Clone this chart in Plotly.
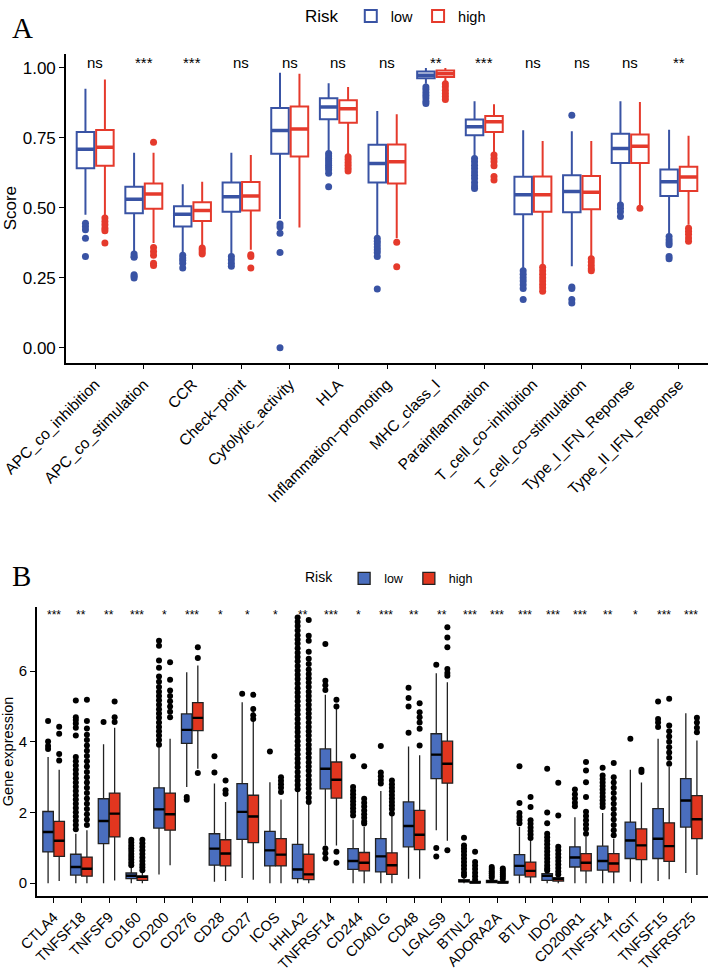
import plotly.graph_objects as go

# ---------------- Panel A data ----------------
A_categories = ["APC_co_inhibition", "APC_co_stimulation", "CCR", "Check−point",
                "Cytolytic_activity", "HLA", "Inflammation−promoting", "MHC_class_I",
                "Parainflammation", "T_cell_co−inhibition", "T_cell_co−stimulation",
                "Type_I_IFN_Reponse", "Type_II_IFN_Reponse"]
A_sig = ["ns", "***", "***", "ns", "ns", "ns", "ns", "**", "***", "ns", "ns", "ns", "**"]

A_low_lower = [0.475, 0.344, 0.338, 0.332, 0.460, 0.700, 0.399, 0.943, 0.682, 0.285, 0.291, 0.516, 0.403]
A_low_q1 = [0.641, 0.480, 0.433, 0.486, 0.693, 0.816, 0.590, 0.963, 0.759, 0.477, 0.484, 0.660, 0.542]
A_low_median = [0.709, 0.530, 0.477, 0.539, 0.776, 0.860, 0.658, 0.973, 0.789, 0.546, 0.558, 0.712, 0.593]
A_low_q3 = [0.771, 0.575, 0.505, 0.590, 0.856, 0.891, 0.725, 0.987, 0.815, 0.611, 0.616, 0.764, 0.637]
A_low_upper = [0.925, 0.696, 0.584, 0.696, 0.982, 0.945, 0.846, 0.999, 0.880, 0.777, 0.773, 0.880, 0.779]
A_low_outliers = [
    [0.445, 0.433, 0.421, 0.391, 0.326],
    [0.335, 0.326, 0.323, 0.261, 0.255, 0.249],
    [0.330, 0.320, 0.312, 0.302, 0.285],
    [0.326, 0.314, 0.302, 0.291],
    [0.442, 0.431, 0.409, 0.340, 0.000],
    [0.694, 0.685, 0.676, 0.668, 0.660, 0.652, 0.644, 0.636, 0.623, 0.575],
    [0.391, 0.380, 0.370, 0.360, 0.350, 0.340, 0.326, 0.210],
    [0.931, 0.922, 0.912, 0.902, 0.892, 0.880, 0.872],
    [0.676, 0.664, 0.652, 0.640, 0.628, 0.616, 0.604, 0.590, 0.578, 0.569],
    [0.275, 0.262, 0.250, 0.238, 0.225, 0.211, 0.172],
    [0.830, 0.217, 0.211, 0.172, 0.160],
    [0.510, 0.498, 0.486, 0.469],
    [0.397, 0.386, 0.376, 0.368, 0.326, 0.318],
]

A_high_lower = [0.469, 0.374, 0.362, 0.350, 0.429, 0.690, 0.391, 0.949, 0.694, 0.297, 0.323, 0.510, 0.439]
A_high_q1 = [0.650, 0.496, 0.453, 0.490, 0.683, 0.804, 0.587, 0.967, 0.771, 0.486, 0.495, 0.660, 0.560]
A_high_median = [0.716, 0.549, 0.490, 0.542, 0.781, 0.854, 0.664, 0.979, 0.807, 0.546, 0.555, 0.720, 0.610]
A_high_q3 = [0.778, 0.587, 0.520, 0.592, 0.862, 0.884, 0.726, 0.990, 0.828, 0.612, 0.613, 0.762, 0.646]
A_high_upper = [0.958, 0.696, 0.593, 0.688, 0.979, 0.931, 0.834, 0.999, 0.870, 0.738, 0.738, 0.878, 0.757]
A_high_outliers = [
    [0.463, 0.451, 0.439, 0.427, 0.418, 0.374],
    [0.734, 0.358, 0.344, 0.330, 0.302, 0.294],
    [0.356, 0.350, 0.342, 0.335],
    [0.332, 0.326, 0.285],
    [],
    [0.682, 0.672, 0.662, 0.652, 0.641, 0.631],
    [0.377, 0.289],
    [0.943, 0.932, 0.920, 0.908, 0.897, 0.887],
    [0.688, 0.676, 0.664, 0.650, 0.612, 0.599],
    [0.287, 0.275, 0.262, 0.250, 0.238, 0.226, 0.214, 0.202],
    [0.318, 0.306, 0.294, 0.282, 0.275],
    [0.498],
    [0.427, 0.416, 0.405, 0.392, 0.380],
]
A_yticks = [0.0, 0.25, 0.5, 0.75, 1.0]
A_yticklabels = ["0.00", "0.25", "0.50", "0.75", "1.00"]

# ---------------- Panel B data ----------------
B_categories = ["CTLA4", "TNFSF18", "TNFSF9", "CD160", "CD200", "CD276", "CD28", "CD27",
                "ICOS", "HHLA2", "TNFRSF14", "CD244", "CD40LG", "CD48", "LGALS9", "BTNL2",
                "ADORA2A", "BTLA", "IDO2", "CD200R1", "TNFSF14", "TIGIT", "TNFSF15", "TNFRSF25"]
B_sig = ["***", "**", "**", "***", "*", "***", "*", "*", "*", "**", "***", "*",
         "***", "**", "**", "***", "***", "***", "***", "***", "**", "*", "***", "***"]

B_low_lower = [0.0, 0.0, 0.0, 0.0, 0.25, 2.72, 0.04, 0.15, 0.0, 0.0, 1.07, 0.0, 0.0, 0.13, 1.50, 0.0, 0.0, 0.0, 0.0, 0.0, 0.0, 0.04, 0.06, 0.29]
B_low_q1 = [0.885, 0.23, 1.12, 0.13, 1.56, 3.96, 0.51, 1.24, 0.49, 0.13, 2.67, 0.39, 0.32, 1.03, 2.96, 0.04, 0.02, 0.23, 0.08, 0.46, 0.37, 0.70, 0.70, 1.59]
B_low_median = [1.45, 0.46, 1.76, 0.21, 2.09, 4.34, 0.98, 2.02, 0.93, 0.39, 3.24, 0.63, 0.76, 1.62, 3.64, 0.06, 0.05, 0.49, 0.21, 0.73, 0.63, 1.21, 1.26, 2.34]
B_low_q3 = [2.03, 0.82, 2.39, 0.29, 2.70, 4.79, 1.40, 2.82, 1.47, 1.10, 3.80, 0.98, 1.26, 2.30, 4.23, 0.10, 0.08, 0.81, 0.27, 1.03, 1.05, 1.73, 2.11, 2.96]
B_low_upper = [3.57, 1.40, 3.93, 0.46, 3.85, 5.97, 2.82, 5.12, 2.86, 2.63, 5.33, 1.80, 2.61, 3.87, 5.94, 0.18, 0.13, 1.59, 0.32, 1.87, 1.99, 3.21, 4.09, 4.81]
B_low_outliers = [
    [4.59, 4.01, 3.88, 3.80],
    [5.17, 4.70, 4.62, 4.52, 4.40, 4.18, 3.57, 3.45, 3.33, 3.21, 3.09, 2.97, 2.85, 2.73, 2.61, 2.49, 2.37, 2.25, 2.13, 2.01, 1.89, 1.77, 1.65, 1.53],
    [4.56],
    [1.23, 1.15, 1.07, 0.99, 0.91, 0.83, 0.75, 0.67, 0.59, 0.51],
    [6.86, 6.72, 6.30, 6.10, 5.85, 5.70, 5.55, 5.42, 5.30, 5.18, 5.05, 4.92, 4.80, 4.68, 4.55, 4.42, 4.30, 4.18, 4.05, 3.92],
    [2.44, 2.36],
    [3.59, 3.13],
    [5.36],
    [3.73],
    [7.52, 7.40, 7.28, 7.15, 7.02, 6.90, 6.78, 6.65, 6.52, 6.40, 6.28, 6.15, 6.02, 5.90, 5.78, 5.65,
     5.52, 5.40, 5.28, 5.15, 5.02, 4.90, 4.78, 4.65, 4.52, 4.40, 4.28, 4.15, 4.02, 3.90, 3.78, 3.65,
     3.52, 3.40, 3.28, 3.15, 3.02, 2.90, 2.78, 2.66],
    [6.77, 5.73, 5.60, 5.47, 0.98, 0.85, 0.70],
    [3.59, 2.72, 2.62, 2.52, 2.42, 2.32, 2.22, 2.12, 2.02, 1.92],
    [3.88, 3.13, 3.03, 2.92, 2.82],
    [5.53, 5.24, 5.00, 4.26],
    [6.18, 1.00, 0.76],
    [1.29, 1.07, 0.98, 0.90, 0.80, 0.70, 0.60, 0.50, 0.40, 0.30, 0.22],
    [0.46, 0.40, 0.34, 0.28, 0.22, 0.16],
    [3.31, 2.27, 1.99, 1.88, 1.79, 1.70],
    [3.24, 2.00, 1.70, 1.40, 1.30, 1.20, 1.10, 1.00, 0.90, 0.80, 0.70, 0.60, 0.50, 0.42, 0.36],
    [2.65, 2.52, 2.40, 2.28, 2.18],
    [3.27, 3.05, 2.95, 2.85, 2.75, 2.65, 2.55, 2.45, 2.35, 2.25, 2.16],
    [4.09],
    [5.14, 4.65, 4.55, 4.42],
    [],
]

B_high_lower = [0.06, 0.0, 0.08, 0.0, 0.51, 3.24, 0.06, 0.10, 0.0, 0.0, 1.07, 0.0, 0.0, 0.13, 1.20, 0.0, 0.0, 0.0, 0.0, 0.0, 0.0, 0.0, 0.11, 0.23]
B_high_q1 = [0.76, 0.20, 1.31, 0.08, 1.50, 4.32, 0.49, 1.15, 0.49, 0.10, 2.41, 0.35, 0.25, 0.95, 2.83, 0.01, 0.01, 0.18, 0.06, 0.35, 0.32, 0.67, 0.62, 1.26]
B_high_median = [1.20, 0.41, 1.97, 0.18, 1.95, 4.68, 0.84, 1.89, 0.81, 0.25, 2.93, 0.58, 0.51, 1.37, 3.38, 0.02, 0.02, 0.35, 0.12, 0.58, 0.56, 1.07, 1.05, 1.81]
B_high_q3 = [1.75, 0.74, 2.55, 0.21, 2.55, 5.11, 1.23, 2.49, 1.26, 0.82, 3.43, 0.87, 0.86, 2.06, 4.02, 0.05, 0.05, 0.60, 0.16, 0.84, 0.84, 1.54, 1.71, 2.48]
B_high_upper = [3.21, 1.50, 4.40, 0.32, 4.09, 6.16, 2.30, 4.98, 2.37, 2.25, 4.93, 1.59, 2.25, 3.62, 5.69, 0.10, 0.10, 1.26, 0.25, 1.31, 1.26, 2.85, 3.29, 4.04]
B_high_outliers = [
    [4.43, 4.23, 3.66, 3.47],
    [5.19, 4.59, 4.38, 4.20, 4.05, 3.90, 3.75, 3.60, 3.45, 3.30, 3.15, 3.00, 2.85, 2.70, 2.55, 2.40, 2.25, 2.10, 1.95, 1.80, 1.65],
    [5.14, 4.70, 4.56],
    [1.23, 1.13, 1.03, 0.93, 0.83, 0.73, 0.63, 0.53, 0.45, 0.37],
    [6.25, 5.76, 5.45, 5.30, 5.15, 5.00, 4.85, 4.70],
    [6.68, 6.37, 3.12],
    [2.91, 2.63, 2.53],
    [5.33, 4.93, 4.75, 4.65],
    [3.00, 2.90, 2.80, 2.70, 2.58],
    [7.45, 7.00, 6.86, 6.55, 6.35, 6.20, 6.05, 5.92, 5.80, 5.68, 5.55, 5.42, 5.30, 5.18, 5.05, 4.92,
     4.80, 4.68, 4.55, 4.42, 4.30, 4.18, 4.05, 3.92, 3.80, 3.68, 3.55, 3.42, 3.30, 3.18, 3.05, 2.92,
     2.80, 2.68, 2.55, 2.42, 2.30],
    [5.19, 5.00, 0.89, 0.58],
    [3.31, 2.39, 2.28, 2.17, 2.06, 1.95, 1.85, 1.75, 1.69],
    [2.91, 2.80, 2.70, 2.60, 2.50, 2.40, 2.30, 2.20, 2.10, 1.97],
    [5.09, 4.84, 4.70, 4.55, 4.37, 3.90],
    [7.24, 6.95, 6.68, 6.06, 5.95, 5.87, 0.93],
    [0.89, 0.60, 0.50, 0.40, 0.30, 0.20, 0.10],
    [0.42, 0.36, 0.30, 0.24, 0.18, 0.12],
    [2.44, 2.16, 1.78, 1.68, 1.58, 1.48, 1.38, 1.28],
    [2.84, 1.92, 1.03, 0.93, 0.83, 0.73, 0.63, 0.53, 0.43, 0.33, 0.25],
    [3.43, 3.19, 2.86, 2.44, 2.02, 1.90, 1.78, 1.66, 1.54, 1.40],
    [3.40, 3.00, 2.85, 2.70, 2.55, 2.40, 2.25, 2.10, 1.95, 1.80, 1.65, 1.50, 1.36],
    [3.21, 3.15],
    [5.22, 4.46, 4.30, 4.15, 4.00, 3.85, 3.70, 3.55, 3.38],
    [4.68, 4.55, 4.40, 4.27],
]
B_yticks = [0, 2, 4, 6]

# ---------------- styling ----------------
FONT = "Liberation Sans"
A_BLUE, A_RED = "#3953A4", "#E53A2C"
B_BLUE, B_RED = "#4A6EBE", "#E1361F"
OFFSET = 0.2

fig = go.Figure()


def add_group(xaxis, yaxis, n, stats, name, legend, line_color, fill_color, out_color,
              side, width, lw, mlw, msize, median_color):
    lower, q1, med, q3, upper, outl = stats
    xs = [i + side * OFFSET for i in range(n)]
    fig.add_trace(go.Box(
        x=xs, q1=q1, median=med, q3=q3, lowerfence=lower, upperfence=upper,
        name=name, legend=legend, width=width, whiskerwidth=0,
        line=dict(color=line_color, width=lw), fillcolor=fill_color,
        boxpoints=False, xaxis=xaxis, yaxis=yaxis, hoverinfo="skip"))
    # thicker median segments (ggplot style)
    mx, my = [], []
    for i in range(n):
        mx += [xs[i] - width / 2, xs[i] + width / 2, None]
        my += [med[i], med[i], None]
    fig.add_trace(go.Scatter(x=mx, y=my, mode="lines", line=dict(color=median_color, width=mlw),
                             showlegend=False, xaxis=xaxis, yaxis=yaxis, hoverinfo="skip"))
    ox, oy = [], []
    for i in range(n):
        for v in outl[i]:
            ox.append(xs[i])
            oy.append(v)
    fig.add_trace(go.Scatter(x=ox, y=oy, mode="markers",
                             marker=dict(color=out_color, size=msize),
                             showlegend=False, xaxis=xaxis, yaxis=yaxis, hoverinfo="skip"))


nA = len(A_categories)
add_group("x", "y", nA, (A_low_lower, A_low_q1, A_low_median, A_low_q3, A_low_upper, A_low_outliers),
          "low", "legend", A_BLUE, "white", A_BLUE, -1, 0.36, 2, 3.5, 7, A_BLUE)
add_group("x", "y", nA, (A_high_lower, A_high_q1, A_high_median, A_high_q3, A_high_upper, A_high_outliers),
          "high", "legend", A_RED, "white", A_RED, 1, 0.36, 2, 3.5, 7, A_RED)

nB = len(B_categories)
add_group("x2", "y2", nB, (B_low_lower, B_low_q1, B_low_median, B_low_q3, B_low_upper, B_low_outliers),
          "low", "legend2", "#222222", B_BLUE, "black", -1, 0.38, 1.3, 2.4, 6, "black")
add_group("x2", "y2", nB, (B_high_lower, B_high_q1, B_high_median, B_high_q3, B_high_upper, B_high_outliers),
          "high", "legend2", "#222222", B_RED, "black", 1, 0.38, 1.3, 2.4, 6, "black")

annotations = []
for i, s in enumerate(A_sig):
    annotations.append(dict(x=i, y=1.02, xref="x", yref="y", text=s, showarrow=False,
                            font=dict(family=FONT, size=15, color="black"), yanchor="middle"))
for i, s in enumerate(B_sig):
    annotations.append(dict(x=i, y=7.6, xref="x2", yref="y2", text=s, showarrow=False,
                            font=dict(family=FONT, size=12, color="black"), yanchor="middle"))
annotations.append(dict(x=10 / 710, y=1 - 24 / 971, xref="paper", yref="paper", text="A",
                        showarrow=False, xanchor="left", yanchor="middle",
                        font=dict(family="Liberation Serif", size=29, color="black")))
annotations.append(dict(x=10 / 710, y=1 - 574 / 971, xref="paper", yref="paper", text="B",
                        showarrow=False, xanchor="left", yanchor="middle",
                        font=dict(family="Liberation Serif", size=29, color="black")))

axis_common = dict(showline=True, linecolor="black", linewidth=1.6, ticks="outside",
                   ticklen=5, tickwidth=1.4, tickcolor="black", showgrid=False,
                   zeroline=False, automargin=False)

fig.update_layout(
    width=710, height=971,
    margin=dict(l=0, r=0, t=0, b=0),
    paper_bgcolor="white", plot_bgcolor="white",
    font=dict(family=FONT, color="black"),
    annotations=annotations,
    xaxis=dict(domain=[66 / 710, 708 / 710], range=[-0.6, 12.6], tickmode="array",
               tickvals=list(range(nA)), ticktext=A_categories, tickangle=-45,
               tickfont=dict(size=15.5, color="black"), anchor="y", **axis_common),
    yaxis=dict(domain=[1 - 360 / 971, 1 - 50 / 971], range=[-0.053, 1.05], tickmode="array",
               tickvals=A_yticks, ticktext=A_yticklabels, tickfont=dict(size=17, color="black"),
               title=dict(text="Score", font=dict(size=17), standoff=2), anchor="x", **axis_common),
    xaxis2=dict(domain=[37 / 710, 708 / 710], range=[-0.6, 23.6], tickmode="array",
                tickvals=list(range(nB)), ticktext=B_categories, tickangle=-45,
                tickfont=dict(size=14.5, color="black"), anchor="y2", **axis_common),
    yaxis2=dict(domain=[1 - 896 / 971, 1 - 605 / 971], range=[-0.37, 7.83], tickmode="array",
                tickvals=B_yticks, tickfont=dict(size=15, color="black"),
                title=dict(text="Gene expression", font=dict(size=14.5), standoff=4),
                anchor="x2", **axis_common),
    legend=dict(title=dict(text="Risk ", font=dict(size=17)), orientation="h",
                x=303 / 710, y=1.004, xanchor="left", yanchor="top",
                font=dict(size=14.5), bgcolor="rgba(0,0,0,0)", itemwidth=30),
    legend2=dict(title=dict(text="Risk ", font=dict(size=14)), orientation="h",
                 x=303 / 710, y=1 - 562 / 971, xanchor="left", yanchor="top",
                 font=dict(size=12.5), bgcolor="rgba(0,0,0,0)", itemwidth=30),
)

fig.write_html("out.html", config={"displayModeBar": False},
               post_script="document.body.style.margin='0px';")
